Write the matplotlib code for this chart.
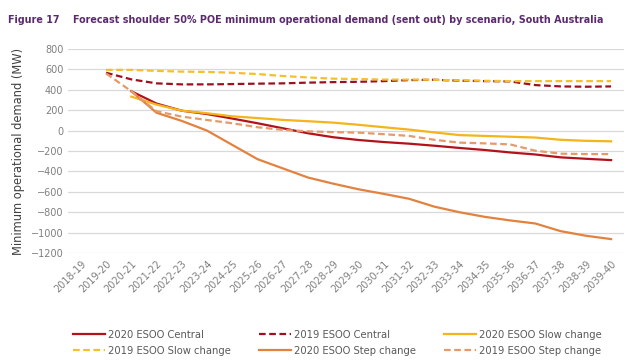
import numpy as np
import matplotlib.pyplot as plt

years = ["2018-19", "2019-20", "2020-21", "2021-22", "2022-23", "2023-24", "2024-25",
         "2025-26", "2026-27", "2027-28", "2028-29", "2029-30", "2030-31", "2031-32",
         "2032-33", "2033-34", "2034-35", "2035-36", "2036-37", "2037-38", "2038-39",
         "2039-40"]

nan = np.nan
central_2020 = [nan, nan, 386, 265, 195, 162, 118, 72, 23, -26, -65, -92, -112, -128,
                -148, -170, -190, -214, -234, -262, -276, -289]
central_2019 = [nan, 567, 502, 463, 453, 453, 456, 460, 463, 470, 475, 478, 485, 495,
                498, 489, 485, 482, 446, 433, 430, 433]
slow_2020 = [nan, nan, 333, 255, 195, 170, 140, 123, 105, 92, 78, 57, 33, 10,
             -18, -44, -52, -60, -68, -90, -100, -105]
slow_2019 = [nan, 595, 595, 585, 578, 575, 567, 554, 535, 521, 509, 505, 500, 500,
             498, 492, 488, 485, 485, 485, 485, 485]
step_2020 = [nan, nan, 386, 175, 95, 0, -140, -280, -370, -460, -520, -575, -620, -668,
             -745, -800, -845, -880, -910, -985, -1030, -1063]
step_2019 = [nan, 560, 386, 190, 137, 104, 72, 33, 7, -7, -15, -20, -35, -52,
             -90, -118, -125, -135, -197, -226, -230, -230]

fig = plt.figure(figsize=(6.43, 3.6), dpi=100)
ax = fig.add_axes([0.106, 0.297, 0.864, 0.567])

x = np.arange(len(years))
l1, = ax.plot(x, central_2020, color="#B4121B", lw=1.6, label="2020 ESOO Central")
l2, = ax.plot(x, central_2019, color="#9E1020", lw=1.6, ls=(0, (3, 1.6)), label="2019 ESOO Central")
l3, = ax.plot(x, slow_2020, color="#F4B41A", lw=1.6, label="2020 ESOO Slow change")
l4, = ax.plot(x, slow_2019, color="#F4C02E", lw=1.6, ls=(0, (3, 1.6)), label="2019 ESOO Slow change")
l5, = ax.plot(x, step_2020, color="#E3823F", lw=1.6, label="2020 ESOO Step change")
l6, = ax.plot(x, step_2019, color="#E49A6A", lw=1.6, ls=(0, (3, 1.6)), label="2019 ESOO Step change")

ax.set_xlim(-0.5, len(years) - 0.5)
ax.set_ylim(-1200, 800)
ax.set_yticks(np.arange(-1200, 801, 200))
ax.set_xticks(x)
ax.set_xticklabels(years, rotation=45, ha="right", rotation_mode="anchor")
ax.tick_params(axis="both", length=0, labelsize=7, labelcolor="#7f7f7f")
ax.tick_params(axis="x", pad=4)
ax.grid(axis="y", color="#d9d9d9", lw=0.9)
ax.set_axisbelow(True)
for s in ax.spines.values():
    s.set_visible(False)
ax.set_ylabel("Minimum operational demand (MW)", fontsize=8.3, color="#404040", labelpad=4)

fig.text(0.012, 0.945, "Figure 17    Forecast shoulder 50% POE minimum operational demand (sent out) by scenario, South Australia",
         fontsize=6.95, fontweight="bold", color="#5B2A6E", va="center")

# column-major order so rows read like the original
handles = [l1, l4, l2, l5, l3, l6]
fig.legend(handles=handles, labels=[h.get_label() for h in handles], ncol=3,
           loc="center", bbox_to_anchor=(0.525, 0.048), frameon=False,
           fontsize=7.2, labelcolor="#595959", handlelength=3.2, handletextpad=0.3,
           columnspacing=2.8, labelspacing=0.6)

fig.savefig("out.png", dpi=100)
